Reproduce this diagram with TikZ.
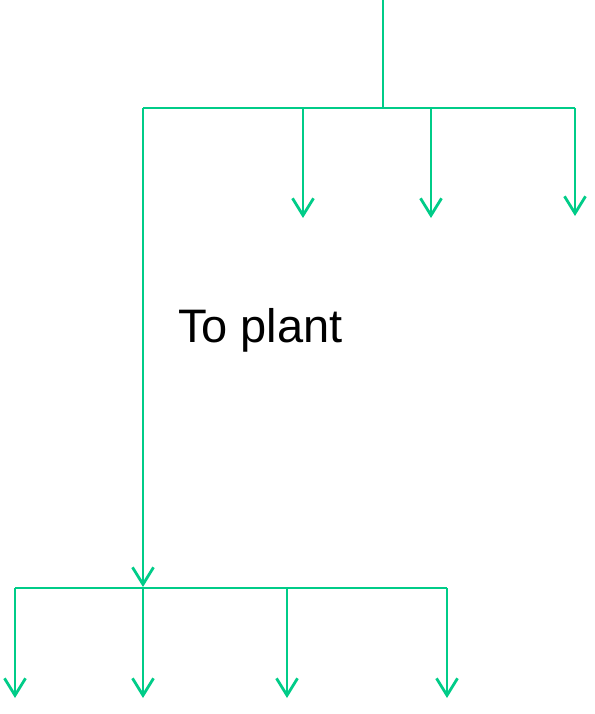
\documentclass[tikz,border=0pt]{standalone}
\usepackage{fontspec}
\setmainfont{Liberation Sans}
\usetikzlibrary{arrows.meta}
\definecolor{flow}{RGB}{0,204,136}
\tikzset{
  pipe/.style={draw=flow, line width=2.8pt, line cap=butt, line join=miter},
  feed/.style={pipe, -{Straight Barb[length=17pt,width=21pt]}},
}
\begin{document}
\begin{tikzpicture}[x=1pt,y=-1pt]
\useasboundingbox (0,0) rectangle (594,714);
% top branch
\coordinate (src) at (383,0);
\coordinate (t0) at (383,108);
\coordinate (tl) at (143,108);
\coordinate (t1) at (303,108);
\coordinate (t2) at (431,108);
\coordinate (t3) at (575,108);
\coordinate (e1) at (303,218);
\coordinate (e2) at (431,218);
\coordinate (e3) at (575,216);
% bottom branch
\coordinate (b0) at (143,588);
\coordinate (bl) at (15,588);
\coordinate (b2) at (287,588);
\coordinate (b3) at (447,588);
\coordinate (d0) at (15,698);
\coordinate (d1) at (143,698);
\coordinate (d2) at (287,698);
\coordinate (d3) at (447,698);
\coordinate (tipb) at (143,587);

\draw[pipe] (src) -- (t0);
\draw[pipe] (tl) -- (t3);
\draw[feed] (t1) -- (e1);
\draw[feed] (t2) -- (e2);
\draw[feed] (t3) -- (e3);
\draw[feed] (tl) -- (tipb);
\draw[pipe] (bl) -- (b3);
\draw[feed] (bl) -- (d0);
\draw[feed] (b0) -- (d1);
\draw[feed] (b2) -- (d2);
\draw[feed] (b3) -- (d3);

\node[anchor=base west, inner sep=0pt, font=\fontsize{47}{52}\selectfont] (lbl) at (178,342) {To plant};
\end{tikzpicture}
\end{document}
